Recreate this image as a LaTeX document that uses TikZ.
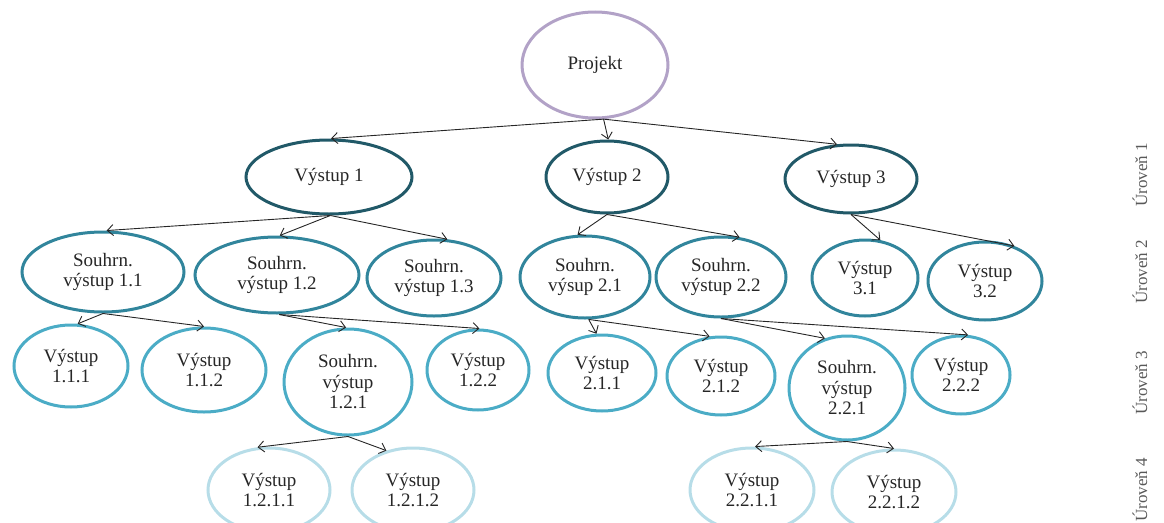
\documentclass[tikz,border=0pt]{standalone}
\usepackage{fontspec}
\setmainfont{Liberation Serif}
\usetikzlibrary{shapes.geometric,arrows.meta}
\definecolor{lvlroot}{HTML}{B2A2C7}
\definecolor{lvlone}{HTML}{215968}
\definecolor{lvltwo}{HTML}{31859C}
\definecolor{lvlthree}{HTML}{4BACC6}
\definecolor{lvlfour}{HTML}{B7DDE8}
\definecolor{lbl}{HTML}{595959}
\tikzset{
  bub/.style 2 args={ellipse, draw, line width=3pt, inner sep=0pt,
    minimum width=#1pt, minimum height=#2pt, align=center,
    font=\fontsize{19}{20.5}\selectfont, text=black!85},
  root/.style={draw=lvlroot},
  one/.style={draw=lvlone},
  two/.style={draw=lvltwo},
  three/.style={draw=lvlthree},
  four/.style={draw=lvlfour},
  arr/.style={-{Straight Barb[length=6pt,width=11pt]}, line width=0.9pt, black!85},
  levellabel/.style={rotate=90, font=\fontsize{17}{19}\selectfont, text=lbl}
}
\begin{document}
\begin{tikzpicture}[x=1pt,y=-1pt]
\path[use as bounding box] (0,0) rectangle (1164,522);
\clip (0,0) rectangle (1164,522);

% root
\node[bub={146}{106}, root] (p) at (595,65) {Projekt};

% level 1
\node[bub={166}{74}, one] (v1) at (329,177) {Výstup 1};
\node[bub={122}{72}, one] (v2) at (607,177) {Výstup 2};
\node[bub={132}{68}, one] (v3) at (851,179) {Výstup 3};

% level 2
\node[bub={162}{80}, two] (s11) at (103,272) {Souhrn.\\výstup 1.1};
\node[bub={164}{76}, two] (s12) at (277,275) {Souhrn.\\výstup 1.2};
\node[bub={134}{76}, two] (s13) at (434,278) {Souhrn.\\výstup 1.3};
\node[bub={130}{82}, two] (s21) at (585,277) {Souhrn.\\výsup 2.1};
\node[bub={130}{80}, two] (s22) at (721,277) {Souhrn.\\výstup 2.2};
\node[bub={106}{76}, two] (v31) at (865,278) {Výstup\\3.1};
\node[bub={114}{78}, two] (v32) at (985,281) {Výstup\\3.2};

% level 3
\node[bub={114}{82}, three] (v111) at (71,366) {Výstup\\1.1.1};
\node[bub={124}{84}, three] (v112) at (204,370) {Výstup\\1.1.2};
\node[bub={128}{106}, three] (s121) at (348,382) {Souhrn.\\výstup\\1.2.1};
\node[bub={102}{80}, three] (v122) at (478,370) {Výstup\\1.2.2};
\node[bub={108}{76}, three] (v211) at (602,373) {Výstup\\2.1.1};
\node[bub={108}{78}, three] (v212) at (721,376) {Výstup\\2.1.2};
\node[bub={116}{104}, three] (s221) at (847,388) {Souhrn.\\výstup\\2.2.1};
\node[bub={98}{78}, three] (v222) at (961,375) {Výstup\\2.2.2};

% level 4
\node[bub={122}{84}, four] (v1211) at (269,490) {Výstup\\1.2.1.1};
\node[bub={122}{84}, four] (v1212) at (413,490) {Výstup\\1.2.1.2};
\node[bub={124}{84}, four] (v2211) at (752,490) {Výstup\\2.2.1.1};
\node[bub={124}{84}, four] (v2212) at (894,492) {Výstup\\2.2.1.2};

% connectors
\draw[arr] (p.-81) -- (v1.87);
\draw[arr] (p.-81) -- (v2.88);
\draw[arr] (p.-81) -- (v3.112);

\draw[arr] (v1.-88) -- (s11.85);
\draw[arr] (v1.-88) -- (s12.86);
\draw[arr] (v1.-88) -- (s13.71);
\draw[arr] (v2.-90) -- (s21.100);
\draw[arr] (v2.-90) -- (s22.65);
\draw[arr] (v3.-90) -- (v31.68);
\draw[arr] (v3.-90) -- (v32.50);

\draw[arr] (s11.-90) -- (v111.81);
\draw[arr] (s11.-90) -- (v112.90);
\draw[arr] (s12.-87) -- (s121.92);
\draw[arr] (s12.-87) -- (v122.88);
\draw[arr] (s21.-85) -- (v211.98);
\draw[arr] (s21.-85) -- (v212.106);
\draw[arr] (s22.-90) -- (s221.114);
\draw[arr] (s22.-90) -- (v222.80);

\draw[arr] (s121.-90) -- (v1211.105);
\draw[arr] (s121.-90) -- (v1212.124);
\draw[arr] (s221.-90) -- (v2211.86);
\draw[arr] (s221.-90) -- (v2212.90);

% level captions
\node[levellabel] (u1) at (1140,175) {Úroveň 1};
\node[levellabel] (u2) at (1140,272) {Úroveň 2};
\node[levellabel] (u3) at (1140,383) {Úroveň 3};
\node[levellabel] (u4) at (1140,490) {Úroveň 4};
\end{tikzpicture}
\end{document}
